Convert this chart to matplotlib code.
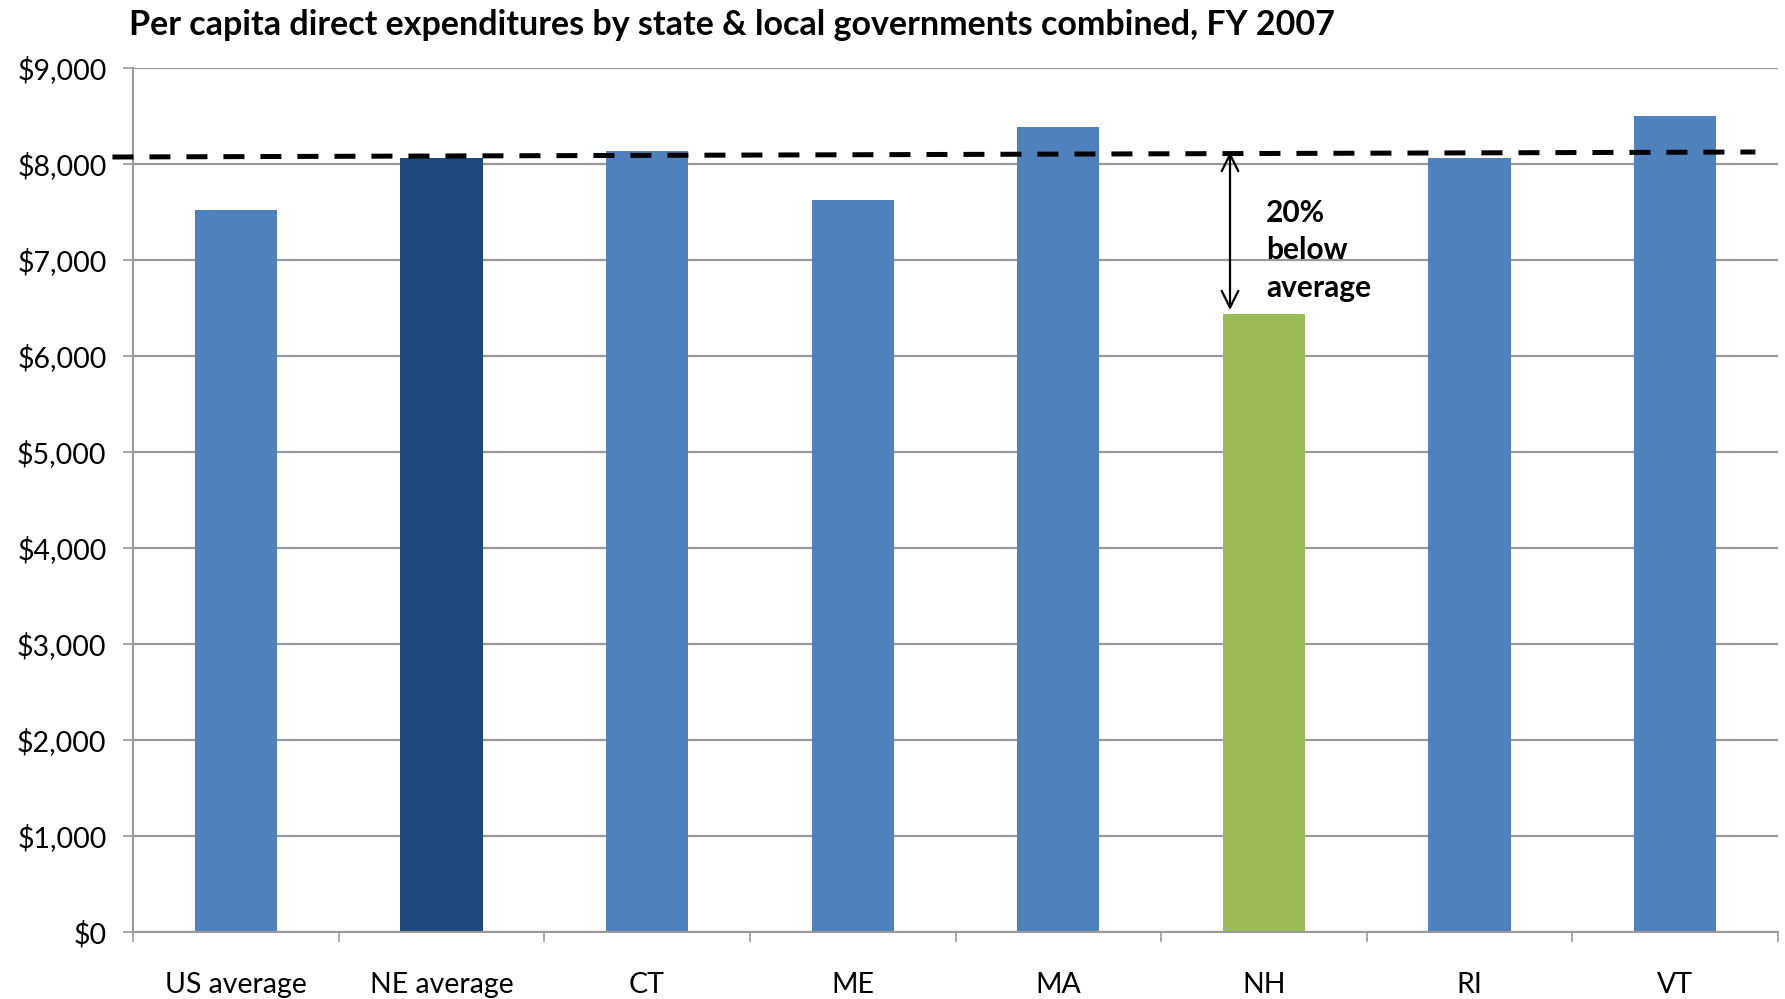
import matplotlib
matplotlib.use("Agg")
import matplotlib.pyplot as plt
from matplotlib.ticker import FuncFormatter, FixedLocator

plt.rcParams['font.family'] = ['Lato', 'DejaVu Sans']

categories = ['US average', 'NE average', 'CT', 'ME', 'MA', 'NH', 'RI', 'VT']
spending = [7520, 8060, 8135, 7625, 8390, 6440, 8065, 8500]
bar_colors = ['#4F81BD', '#1F497D', '#4F81BD', '#4F81BD', '#4F81BD', '#9BBB59', '#4F81BD', '#4F81BD']

# hand-drawn reference line and arrow (data units)
avg_line_x = [-0.60, 7.39]
avg_line_y = [8073, 8125]
arrow_x = 4.835
arrow_top, arrow_bottom = 8125, 6479
note = '20%\nbelow\naverage'

fig = plt.figure(figsize=(17.85, 9.99), dpi=100)
ax = fig.add_axes([133 / 1785, 1 - 932 / 999, (1778 - 133) / 1785, (932 - 68) / 999])

x = range(len(categories))
ax.bar(x, spending, width=0.4, color=bar_colors, zorder=2)

ax.set_xlim(-0.5, 7.5)
ax.set_ylim(0, 9000)
ax.set_yticks(range(0, 9001, 1000))
ax.yaxis.set_major_formatter(FuncFormatter(lambda v, p: f'${v:,.0f}'))
ax.grid(axis='y', color='#9A9A9A', linewidth=1.6, zorder=1)
ax.set_axisbelow(True)

ax.set_xticks(list(x))
ax.set_xticklabels(categories)
ax.xaxis.set_minor_locator(FixedLocator([i - 0.5 for i in range(len(categories) + 1)]))
ax.tick_params(axis='x', which='major', length=0, pad=29, labelsize=20.5)
ax.tick_params(axis='x', which='minor', length=7, width=1.2, color='#9A9A9A')
ax.tick_params(axis='y', length=7, width=1.2, color='#9A9A9A', pad=12, labelsize=20.5)

for s in ['top', 'right']:
    ax.spines[s].set_visible(False)
for s in ['left', 'bottom']:
    ax.spines[s].set_color('#9A9A9A')
    ax.spines[s].set_linewidth(1.5)

ax.plot(avg_line_x, avg_line_y, color='black', linewidth=3.6,
        dashes=(4.2, 3.2), solid_capstyle='butt', dash_capstyle='butt',
        clip_on=False, zorder=4)

ax.annotate('', xy=(arrow_x, arrow_bottom), xytext=(arrow_x, arrow_top),
            arrowprops=dict(arrowstyle='<->', color='black', lw=1.6,
                            mutation_scale=30, shrinkA=0, shrinkB=0), zorder=5)
ax.text(5.01, 7640, note, fontsize=21.5, fontweight='bold', va='top', ha='left',
        linespacing=1.42, zorder=5)

fig.text(129 / 1785, 1 - 35 / 999,
         'Per capita direct expenditures by state & local governments combined, FY 2007',
         fontsize=24.5, fontweight='bold', ha='left', va='baseline')

fig.savefig('out.png', dpi=100)
